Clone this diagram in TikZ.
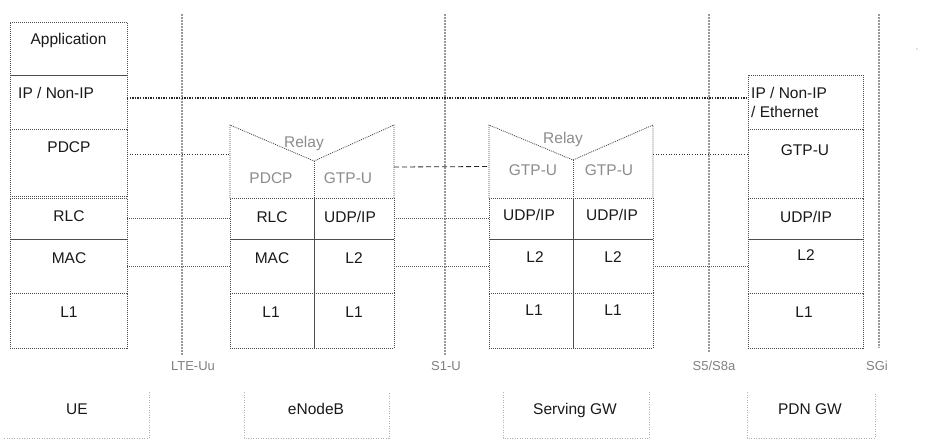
\documentclass[tikz,border=0pt]{standalone}
\usepackage{fontspec}
\setmainfont{Liberation Sans}
\usetikzlibrary{fit}
\begin{document}
\begin{tikzpicture}[x=1pt,y=-1pt,
 lay/.style={draw=black!70, line width=0.8pt, dash pattern=on 1pt off 1pt, inner sep=0pt, outer sep=0pt},
 hole/.style={inner sep=0pt, outer sep=0pt},
 txt/.style={font=\fontsize{15.5}{18}\selectfont, text=black!90, anchor=base, inner sep=0pt},
 txtw/.style={txt, anchor=base west},
 faint/.style={txt, text=black!45},
 iflabel/.style={txt, text=black!50, font=\fontsize{13}{15}\selectfont},
 sepline/.style={draw=black!40, line width=1.1pt, dash pattern=on 2pt off 1pt},
 ipconn/.style={draw=black!85, line width=1.3pt, dash pattern=on 1.3pt off 1.3pt},
 thinconn/.style={draw=black!80, line width=0.7pt, dash pattern=on 1pt off 1.6pt},
 gtpconn/.style={draw=black!85, line width=0.8pt, dash pattern=on 5pt off 3pt},
 lowconn/.style={draw=black!65, line width=0.8pt, dash pattern=on 1pt off 1pt},
 entbox/.style={draw=black!30, line width=0.7pt, dash pattern=on 1pt off 1.5pt},
]
\useasboundingbox (0,0) rectangle (936,439);

% ---------- reference point lines ----------
\coordinate (uu-top) at (182,14);  \coordinate (uu-bot) at (182,355);
\coordinate (s1-top) at (445,14);  \coordinate (s1-bot) at (445,355);
\coordinate (s5-top) at (709,14);  \coordinate (s5-bot) at (709,352);
\coordinate (sg-top) at (879,14);  \coordinate (sg-bot) at (879,348);
\draw[sepline] (uu-top) -- (uu-bot);
\draw[sepline] (s1-top) -- (s1-bot);
\draw[sepline] (s5-top) -- (s5-bot);
\draw[sepline] (sg-top) -- (sg-bot);
\node[iflabel] (uu-lab) at (193,370) {LTE-Uu};
\node[iflabel] (s1-lab) at (446,370) {S1-U};
\node[iflabel] (s5-lab) at (714,370) {S5/S8a};
\node[iflabel] (sg-lab) at (877,370) {SGi};

% ---------- UE ----------
\node[lay, fit={(10,22) (127,75)}]   (ue-app)  {};
\node[lay, fit={(10,75) (127,129)}]  (ue-ip)   {};
\node[lay, fit={(10,129) (127,196)}] (ue-pdcp) {};
\node[lay, fit={(10,198) (127,239)}] (ue-rlc)  {};
\node[lay, fit={(10,239) (127,293)}] (ue-mac)  {};
\node[lay, fit={(10,293) (127,348)}] (ue-l1)   {};
\node[txt]  (ue-app-t)  at (68.5,44) {Application};
\node[txtw] (ue-ip-t)   at (18,98)   {IP / Non-IP};
\node[txt]  (ue-pdcp-t) at (69,152)  {PDCP};
\node[txt]  (ue-rlc-t)  at (69,221)  {RLC};
\node[txt]  (ue-mac-t)  at (69,263)  {MAC};
\node[txt]  (ue-l1-t)   at (69,317)  {L1};

% ---------- eNodeB ----------
\coordinate (enb-tl) at (230,125);
\coordinate (enb-tr) at (394,125);
\node[hole, fit={(230,161) (314,198)}] (enb-pdcp) {};
\node[hole, fit={(314,161) (394,198)}] (enb-gtp)  {};
\draw[lay] (enb-pdcp.south west) -- (enb-tl) -- (enb-pdcp.north east) -- (enb-tr) -- (enb-gtp.south east);
\draw[lay] (enb-pdcp.north east) -- (enb-pdcp.south east);
\node[lay, fit={(230,198) (314,239)}] (enb-rlc) {};
\node[lay, fit={(314,198) (394,239)}] (enb-udp) {};
\node[lay, fit={(230,239) (314,293)}] (enb-mac) {};
\node[lay, fit={(314,239) (394,293)}] (enb-l2)  {};
\node[lay, fit={(230,293) (314,348)}] (enb-l1a) {};
\node[lay, fit={(314,293) (394,348)}] (enb-l1b) {};
\node[faint] (enb-relay-t) at (304,147) {Relay};
\node[faint] (enb-pdcp-t)  at (271,183) {PDCP};
\node[faint] (enb-gtp-t)   at (348,183) {GTP-U};
\node[txt]   (enb-rlc-t)   at (272,222) {RLC};
\node[txt]   (enb-udp-t)   at (350,222) {UDP/IP};
\node[txt]   (enb-mac-t)   at (272,263) {MAC};
\node[txt]   (enb-l2-t)    at (354,263) {L2};
\node[txt]   (enb-l1a-t)   at (271,317) {L1};
\node[txt]   (enb-l1b-t)   at (354,317) {L1};

% ---------- Serving GW ----------
\coordinate (sgw-tl) at (489,125);
\coordinate (sgw-tr) at (653,125);
\node[hole, fit={(489,160) (573,198)}] (sgw-gtpl) {};
\node[hole, fit={(573,160) (653,198)}] (sgw-gtpr) {};
\draw[lay] (sgw-gtpl.south west) -- (sgw-tl) -- (sgw-gtpl.north east) -- (sgw-tr) -- (sgw-gtpr.south east);
\draw[lay] (sgw-gtpl.north east) -- (sgw-gtpl.south east);
\node[lay, fit={(489,198) (573,239)}] (sgw-udpl) {};
\node[lay, fit={(573,198) (653,239)}] (sgw-udpr) {};
\node[lay, fit={(489,239) (573,293)}] (sgw-l2l)  {};
\node[lay, fit={(573,239) (653,293)}] (sgw-l2r)  {};
\node[lay, fit={(489,293) (573,348)}] (sgw-l1l)  {};
\node[lay, fit={(573,293) (653,348)}] (sgw-l1r)  {};
\node[faint] (sgw-relay-t) at (563,143) {Relay};
\node[faint] (sgw-gtpl-t)  at (533,175) {GTP-U};
\node[faint] (sgw-gtpr-t)  at (609,175) {GTP-U};
\node[txt]   (sgw-udpl-t)  at (529,220) {UDP/IP};
\node[txt]   (sgw-udpr-t)  at (612,220) {UDP/IP};
\node[txt]   (sgw-l2l-t)   at (535,262) {L2};
\node[txt]   (sgw-l2r-t)   at (613,262) {L2};
\node[txt]   (sgw-l1l-t)   at (534,315) {L1};
\node[txt]   (sgw-l1r-t)   at (613,315) {L1};

% ---------- PDN GW ----------
\node[lay, fit={(748,75) (863,129)}]  (pdn-ip)  {};
\node[lay, fit={(748,129) (863,198)}] (pdn-gtp) {};
\node[lay, fit={(748,198) (863,239)}] (pdn-udp) {};
\node[lay, fit={(748,239) (863,293)}] (pdn-l2)  {};
\node[lay, fit={(748,293) (863,348)}] (pdn-l1)  {};
\node[txtw] (pdn-ip-t)  at (751,98)  {IP / Non-IP};
\node[txtw] (pdn-eth-t) at (751,117) {/ Ethernet};
\node[txt]  (pdn-gtp-t) at (805,155) {GTP-U};
\node[txt]  (pdn-udp-t) at (806,222) {UDP/IP};
\node[txt]  (pdn-l2-t)  at (806,260) {L2};
\node[txt]  (pdn-l1-t)  at (804,317) {L1};

% ---------- peer connectors ----------
\draw[ipconn] ([yshift=4pt]ue-ip.east) -- ([yshift=4pt]pdn-ip.west);
\coordinate (pdcp-l) at ([yshift=8.5pt]ue-pdcp.east);
\draw[thinconn] (pdcp-l) -- (pdcp-l -| enb-tl);
\coordinate (gtp-r) at ([yshift=9.5pt]pdn-gtp.west);
\draw[thinconn] (gtp-r -| sgw-tr) -- (gtp-r);
\draw[gtpconn] ([yshift=12.5pt]enb-gtp.east) -- ([yshift=12.5pt]sgw-gtpl.west);
\draw[lowconn] (ue-rlc.east) -- (enb-rlc.west);
\draw[lowconn] (ue-mac.east) -- (enb-mac.west);
\draw[lowconn] (enb-udp.east) -- (sgw-udpl.west);
\draw[lowconn] (enb-l2.east) -- (sgw-l2l.west);
\draw[lowconn] (sgw-l2r.east) -- (pdn-l2.west);

% ---------- entity labels ----------
\node[hole, fit={(4,392) (149,438)}]   (ue-ent)  {};
\node[hole, fit={(244,392) (389,438)}] (enb-ent) {};
\node[hole, fit={(503,392) (649,438)}] (sgw-ent) {};
\node[hole, fit={(747,392) (875,438)}] (pdn-ent) {};
\draw[entbox] (ue-ent.south west) -- (ue-ent.south east) -- (ue-ent.north east);
\draw[entbox] (enb-ent.north west) -- (enb-ent.south west) -- (enb-ent.south east) -- (enb-ent.north east);
\draw[entbox] (sgw-ent.north west) -- (sgw-ent.south west) -- (sgw-ent.south east) -- (sgw-ent.north east);
\draw[entbox] (pdn-ent.north west) -- (pdn-ent.south west) -- (pdn-ent.south east) -- (pdn-ent.north east);
\node[txt] (ue-ent-t)  at (77,414)  {UE};
\node[txt] (enb-ent-t) at (316,414) {eNodeB};
\node[txt] (sgw-ent-t) at (575,414) {Serving GW};
\node[txt] (pdn-ent-t) at (810,414) {PDN GW};

\fill[black!50] (917,49) circle (0.6pt);
\end{tikzpicture}
\end{document}
